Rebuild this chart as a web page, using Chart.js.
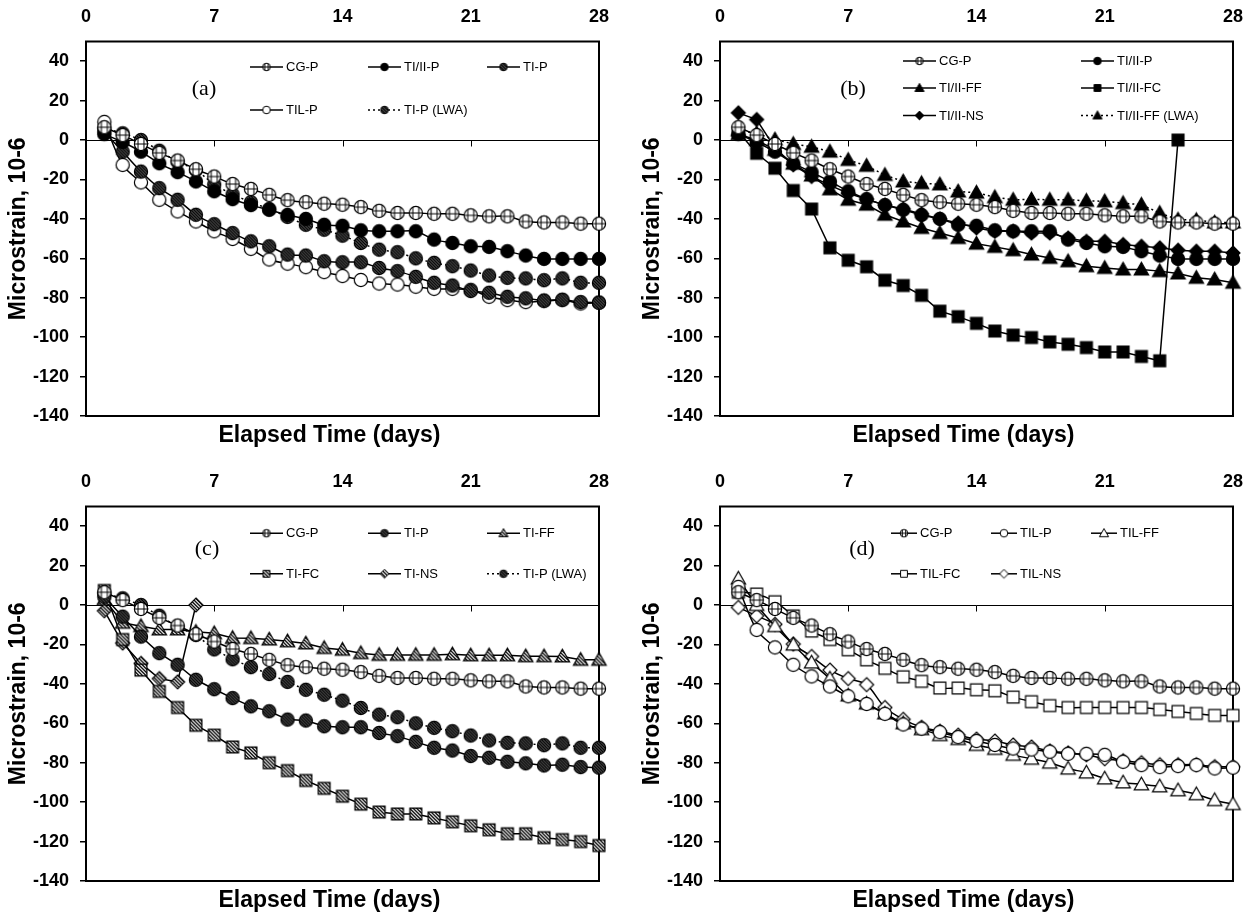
<!DOCTYPE html>
<html lang="en">
<head>
<meta charset="utf-8">
<title>Microstrain vs elapsed time</title>
<script src="https://cdn.jsdelivr.net/npm/chart.js@4.4.1/dist/chart.umd.min.js"></script>
<style>
    html, body { margin: 0; padding: 0; background: #fff; }
    body { position: relative; width: 1257px; height: 917px; overflow: hidden; }
    canvas { position: absolute; }
</style>
</head>
<body>
<canvas id="panelA" width="628" height="458" style="left:0px;top:0px"></canvas>
<canvas id="panelB" width="623" height="458" style="left:634px;top:0px"></canvas>
<canvas id="panelC" width="628" height="452" style="left:0px;top:465px"></canvas>
<canvas id="panelD" width="623" height="452" style="left:634px;top:465px"></canvas>
<script>
// -----------------------------------------------------------------------------
// 1. DATA (microstrain per day)
// -----------------------------------------------------------------------------

const DAYS = [1, 2, 3, 4, 5, 6, 7, 8, 9, 10, 11, 12, 13, 14, 15, 16, 17, 18, 19, 20, 21, 22, 23, 24, 25, 26, 27, 28];
const X_TICKS = [0, 7, 14, 21, 28];
const Y_TICKS = [-140, -120, -100, -80, -60, -40, -20, 0, 20, 40];

const CG_P = [6.5, 2.5, -2, -6.5, -10.4, -14.8, -18.5, -22.3, -24.8, -27.8, -30.5, -31.5, -32.3, -32.8, -34, -35.9, -37, -37, -37.4, -37.4, -38.2, -38.7, -38.7, -41.3, -41.8, -41.8, -42.4, -42.4];
const TI_II_P = [3, -1, -5.9, -11.8, -16.3, -21, -26, -30, -33, -35.4, -38, -40, -43, -43.5, -45.8, -46.3, -46.3, -46.3, -50.5, -52.2, -53.9, -54.2, -56.4, -58.6, -60.3, -60.3, -60.3, -60.3];
const TI_P = [4.2, -5.9, -16, -24.4, -30.3, -37.9, -42.7, -47.2, -51.4, -53.9, -58.1, -58.6, -61.5, -62, -62, -64.9, -66.5, -69.4, -72.4, -73.8, -76.6, -77.5, -79.5, -80.3, -81.4, -81, -82.2, -82.5];
const TI_P_LWA = [6, 3.4, 0, -5.4, -11, -15.2, -22.5, -27.5, -31.5, -35, -39, -43, -45.5, -48.5, -52.2, -55.6, -56.9, -60, -62.3, -64, -66.2, -68.7, -69.9, -70.2, -71.1, -70.2, -72.4, -72.4];
const TIL_P = [9.2, -12.6, -21.5, -30.3, -36.2, -41.3, -46.3, -50.2, -55.2, -60.6, -62.7, -64.5, -67, -69, -71, -72.8, -73.3, -74.4, -75.5, -75.5, -76, -79.5, -81.2, -82.2, -81.7, -81.2, -82.9, -82.5];

const TI_II_FF = [3, 0, -5, -12, -18, -25, -30.3, -32.8, -37.9, -41.3, -44.6, -47.2, -49.7, -52.6, -54.2, -55.9, -58.1, -59.8, -61.5, -64, -64.9, -65.7, -65.7, -66.5, -67.7, -69.9, -70.7, -72.4];
const TI_II_FC = [4.2, -6.7, -14.3, -25.6, -35, -54.7, -61, -64.3, -71.1, -73.8, -78.8, -86.8, -89.6, -93, -96.9, -99, -100.2, -102.4, -103.6, -105.3, -107.5, -107.5, -109.8, -112, 0];
const TI_II_NS = [13.8, 10.4, -4, -12.6, -18.5, -23, -27, -30, -33, -35, -37.5, -40, -42.1, -44.6, -46.3, -46.3, -47.2, -47.2, -49.7, -51.4, -51.4, -53, -53.9, -54.7, -55.9, -56.4, -56.4, -57.3];
const TI_II_FF_LWA = [5, 3.4, 0.3, -2, -3.4, -5.9, -10.1, -13.1, -17.7, -21, -21.9, -22.5, -26.1, -26.7, -29, -30.3, -30.1, -30.3, -30.3, -30.8, -31.1, -32, -32.8, -37, -40.4, -40.6, -41.8, -41.8];

const TI_FF = [3, -9, -10.7, -12.4, -12.4, -13.6, -14.3, -16.7, -16.8, -17.5, -18.4, -19.5, -21.8, -22.7, -24.4, -25.3, -25.3, -25.3, -25.3, -25, -25.5, -25.5, -25.5, -26, -26, -26.1, -27.8, -27.8];
const TI_FC = [7.4, -17.5, -33, -43.8, -52, -61, -66, -72, -75, -80, -84, -89, -93, -97, -101, -105, -106, -106, -108, -110, -112, -114, -116, -116, -118, -119, -120, -122];
const TI_NS = [-2.9, -19.3, -29.6, -37.3, -39, 0];

const TIL_FF = [13.4, 0, -10.7, -20.1, -29.2, -37.3, -45.9, -50, -55, -60, -63, -66, -68, -71, -73, -76, -78, -80, -83, -85, -88, -90, -91, -92, -94, -96, -99, -101];
const TIL_FC = [6.5, 5.6, 1.7, -5.5, -13.2, -17.5, -22.7, -27.8, -32.1, -36.4, -38.7, -42.1, -42.1, -43, -43.5, -46.7, -49, -51, -52, -52, -52, -52, -52, -53, -54, -55, -56, -56];
const TIL_NS = [-1.2, -5.5, -9.8, -19.8, -26.1, -33, -37.3, -40.4, -52, -58, -62, -64, -66, -68, -69, -71, -72, -74, -75, -76, -78, -79, -80, -81, -81, -81, -82, -82];

// -----------------------------------------------------------------------------
// 2. MARKERS
// -----------------------------------------------------------------------------

// shape + fill for every mix; dotted = LWA curves
const STYLE = {
    'CG-P':            { shape: 'circle',   fill: 'grid' },
    'TI/II-P':         { shape: 'circle',   fill: 'solid' },
    'TI-P':            { shape: 'circle',   fill: 'hatch' },
    'TIL-P':           { shape: 'circle',   fill: 'open' },
    'TI-P (LWA)':      { shape: 'circle',   fill: 'hatch', dotted: true },
    'TI/II-FF':        { shape: 'triangle', fill: 'solid' },
    'TI/II-FC':        { shape: 'square',   fill: 'solid' },
    'TI/II-NS':        { shape: 'diamond',  fill: 'solid' },
    'TI/II-FF (LWA)':  { shape: 'triangle', fill: 'solid', dotted: true },
    'TI-FF':           { shape: 'triangle', fill: 'hatchLight' },
    'TI-FC':           { shape: 'square',   fill: 'hatchLight' },
    'TI-NS':           { shape: 'diamond',  fill: 'hatchLight' },
    'TIL-FF':          { shape: 'triangle', fill: 'open' },
    'TIL-FC':          { shape: 'square',   fill: 'open' },
    'TIL-NS':          { shape: 'diamond',  fill: 'open' }
};

function tracePath(g, shape, m, r) {
    g.beginPath();
    if (shape === 'circle') {
        g.arc(m, m, r, 0, Math.PI * 2);
    } else if (shape === 'square') {
        const h = r * 0.9;
        g.rect(m - h, m - h, 2 * h, 2 * h);
    } else if (shape === 'triangle') {
        g.moveTo(m, m - r);
        g.lineTo(m + r, m + r * 0.75);
        g.lineTo(m - r, m + r * 0.75);
        g.closePath();
    } else {
        g.moveTo(m, m - r);
        g.lineTo(m + r, m);
        g.lineTo(m, m + r);
        g.lineTo(m - r, m);
        g.closePath();
    }
}

const markerCache = {};

function marker(shape, fill, r) {
    const key = shape + fill + r;
    if (markerCache[key]) return markerCache[key];

    const size = Math.ceil(2 * r + 4);
    const c = document.createElement('canvas');
    c.width = c.height = size;
    const g = c.getContext('2d');
    const m = size / 2;

    tracePath(g, shape, m, r);
    g.fillStyle = fill === 'solid' ? '#000' : '#fff';
    g.fill();

    if (fill === 'hatch' || fill === 'hatchLight' || fill === 'grid') {
        g.save();
        tracePath(g, shape, m, r);
        g.clip();
        g.strokeStyle = '#000';
        g.beginPath();
        if (fill === 'grid') {
            g.lineWidth = 1;
            const d = r * 0.45;
            g.moveTo(m - d, 0); g.lineTo(m - d, size);
            g.moveTo(m + d, 0); g.lineTo(m + d, size);
            g.moveTo(0, m); g.lineTo(size, m);
        } else {
            const step = fill === 'hatch' ? 3 : 3.5;
            g.lineWidth = fill === 'hatch' ? 1.8 : 1.3;
            for (let k = -size; k < 2 * size; k += step) {
                g.moveTo(k, 0);
                g.lineTo(k + size, size);
            }
        }
        g.stroke();
        g.restore();
    }

    tracePath(g, shape, m, r);
    g.strokeStyle = '#000';
    g.lineWidth = r > 5 ? 1.2 : 1;
    g.stroke();

    markerCache[key] = c;
    return c;
}

const POINT_R = { circle: 6.6, square: 6.6, triangle: 7.2, diamond: 7 };
const LEGEND_R = { circle: 3.8, square: 3.8, triangle: 4.6, diamond: 4.4 };

// -----------------------------------------------------------------------------
// 3. PANELS
// -----------------------------------------------------------------------------

const PANELS = [
    {
        id: 'panelA', tag: '(a)', tagAt: [118, 48], tension: 0.3,
        legend: { cols: [164, 282, 401], rows: [25.5, 68.5], line: 33 },
        series: [['CG-P', CG_P], ['TI/II-P', TI_II_P], ['TI-P', TI_P], ['TIL-P', TIL_P], ['TI-P (LWA)', TI_P_LWA]]
    },
    {
        id: 'panelB', tag: '(b)', tagAt: [133, 48], tension: 0,
        legend: { cols: [183, 361], rows: [19.5, 46.5, 74], line: 33 },
        series: [['CG-P', CG_P], ['TI/II-P', TI_II_P], ['TI/II-FF', TI_II_FF], ['TI/II-FC', TI_II_FC],
                 ['TI/II-NS', TI_II_NS], ['TI/II-FF (LWA)', TI_II_FF_LWA]]
    },
    {
        id: 'panelC', tag: '(c)', tagAt: [121, 43], tension: 0,
        legend: { cols: [164, 282, 401], rows: [26.7, 67.3], line: 33 },
        series: [['CG-P', CG_P], ['TI-P', TI_P], ['TI-FF', TI_FF], ['TI-FC', TI_FC], ['TI-NS', TI_NS], ['TI-P (LWA)', TI_P_LWA]]
    },
    {
        id: 'panelD', tag: '(d)', tagAt: [142, 43], tension: 0.3,
        legend: { cols: [171, 271, 371], rows: [26.7, 67.3], line: 26 },
        series: [['CG-P', CG_P], ['TIL-P', TIL_P], ['TIL-FF', TIL_FF], ['TIL-FC', TIL_FC], ['TIL-NS', TIL_NS]]
    }
];

// frame, zero line, panel tag, bottom axis title and the in-plot legend
const panelDecor = {
    id: 'panelDecor',
    beforeDatasetsDraw(chart, args, opts) {
        const { ctx, chartArea: a, scales: { x, y } } = chart;
        ctx.save();
        ctx.strokeStyle = '#000';

        const y0 = Math.round(y.getPixelForValue(0)) + 0.5;
        ctx.lineWidth = 1;
        ctx.beginPath();
        ctx.moveTo(a.left, y0);
        ctx.lineTo(a.right, y0);
        X_TICKS.forEach(t => {
            const px = Math.round(x.getPixelForValue(t)) + 0.5;
            ctx.moveTo(px, y0);
            ctx.lineTo(px, y0 + 6);
        });
        ctx.stroke();

        ctx.lineWidth = 2;
        ctx.strokeRect(a.left, a.top, a.right - a.left, a.bottom - a.top);

        ctx.fillStyle = '#000';
        ctx.textAlign = 'center';
        ctx.textBaseline = 'middle';
        ctx.font = '22px "Liberation Serif", "Times New Roman", serif';
        ctx.fillText(opts.tag, a.left + opts.tagAt[0], a.top + opts.tagAt[1]);

        ctx.font = 'bold 23px Arial, "Liberation Sans", sans-serif';
        ctx.fillText('Elapsed Time (days)', (a.left + a.right) / 2 - 13, a.bottom + 20);
        ctx.restore();
    },
    afterDatasetsDraw(chart, args, opts) {
        const { ctx, chartArea: a } = chart;
        const lg = opts.legend;
        ctx.save();
        ctx.font = '13px Arial, "Liberation Sans", sans-serif';
        ctx.textAlign = 'left';
        ctx.textBaseline = 'middle';
        ctx.fillStyle = '#000';
        chart.data.datasets.forEach((ds, i) => {
            const st = STYLE[ds.label];
            const cx = a.left + lg.cols[i % lg.cols.length];
            const cy = a.top + lg.rows[Math.floor(i / lg.cols.length)];
            ctx.strokeStyle = '#000';
            ctx.lineWidth = 1.5;
            ctx.setLineDash(st.dotted ? [2, 3] : []);
            ctx.beginPath();
            ctx.moveTo(cx, cy);
            ctx.lineTo(cx + lg.line, cy);
            ctx.stroke();
            ctx.setLineDash([]);
            const img = marker(st.shape, st.fill, LEGEND_R[st.shape]);
            ctx.drawImage(img, cx + lg.line / 2 - img.width / 2, cy - img.height / 2);
            ctx.fillText(ds.label, cx + lg.line + 3, cy + 0.5);
        });
        ctx.restore();
    }
};

// -----------------------------------------------------------------------------
// 4. CHARTS
// -----------------------------------------------------------------------------

Chart.defaults.font.family = 'Arial, "Liberation Sans", Helvetica, sans-serif';
Chart.defaults.color = '#000';

function buildDataset(label, values, tension) {
    const st = STYLE[label];
    return {
        label,
        data: values.map((v, i) => ({ x: DAYS[i], y: v })),
        borderColor: '#000',
        borderWidth: 1.5,
        borderDash: st.dotted ? [2, 3] : [],
        pointStyle: marker(st.shape, st.fill, POINT_R[st.shape]),
        pointRadius: 7,
        tension,
        fill: false,
        clip: false
    };
}

function drawPanel(panel) {
    const canvas = document.getElementById(panel.id);
    new Chart(canvas, {
        type: 'line',
        data: { datasets: panel.series.map(([label, values]) => buildDataset(label, values, panel.tension)) },
        options: {
            responsive: false,
            animation: false,
            events: [],
            layout: { padding: { left: 0, top: 0, right: canvas.width - 599, bottom: canvas.height - 416 } },
            plugins: {
                legend: { display: false },
                tooltip: { enabled: false },
                panelDecor: { tag: panel.tag, tagAt: panel.tagAt, legend: panel.legend }
            },
            scales: {
                x: {
                    type: 'linear',
                    position: 'top',
                    min: 0,
                    max: 28,
                    afterBuildTicks: s => { s.ticks = X_TICKS.map(v => ({ value: v })); },
                    afterFit: s => { s.height = 41.5; },
                    grid: { display: false, drawTicks: false },
                    border: { display: false },
                    ticks: { padding: 14, maxRotation: 0, font: { size: 18, weight: 'bold' }, callback: v => String(v) }
                },
                y: {
                    type: 'linear',
                    min: -140,
                    max: 50,
                    afterBuildTicks: s => { s.ticks = Y_TICKS.map(v => ({ value: v })); },
                    afterFit: s => { s.width = 86; },
                    grid: { drawOnChartArea: false, drawTicks: true, tickLength: 6, color: '#000', lineWidth: 1.5 },
                    border: { display: false },
                    ticks: { padding: 11, font: { size: 18, weight: 'bold' }, callback: v => String(v) },
                    title: {
                        display: true,
                        text: 'Microstrain, 10-6',
                        font: { size: 23, weight: 'bold' },
                        padding: { top: 5, bottom: 0 }
                    }
                }
            }
        },
        plugins: [panelDecor]
    });
}

PANELS.forEach(drawPanel);
</script>
</body>
</html>
